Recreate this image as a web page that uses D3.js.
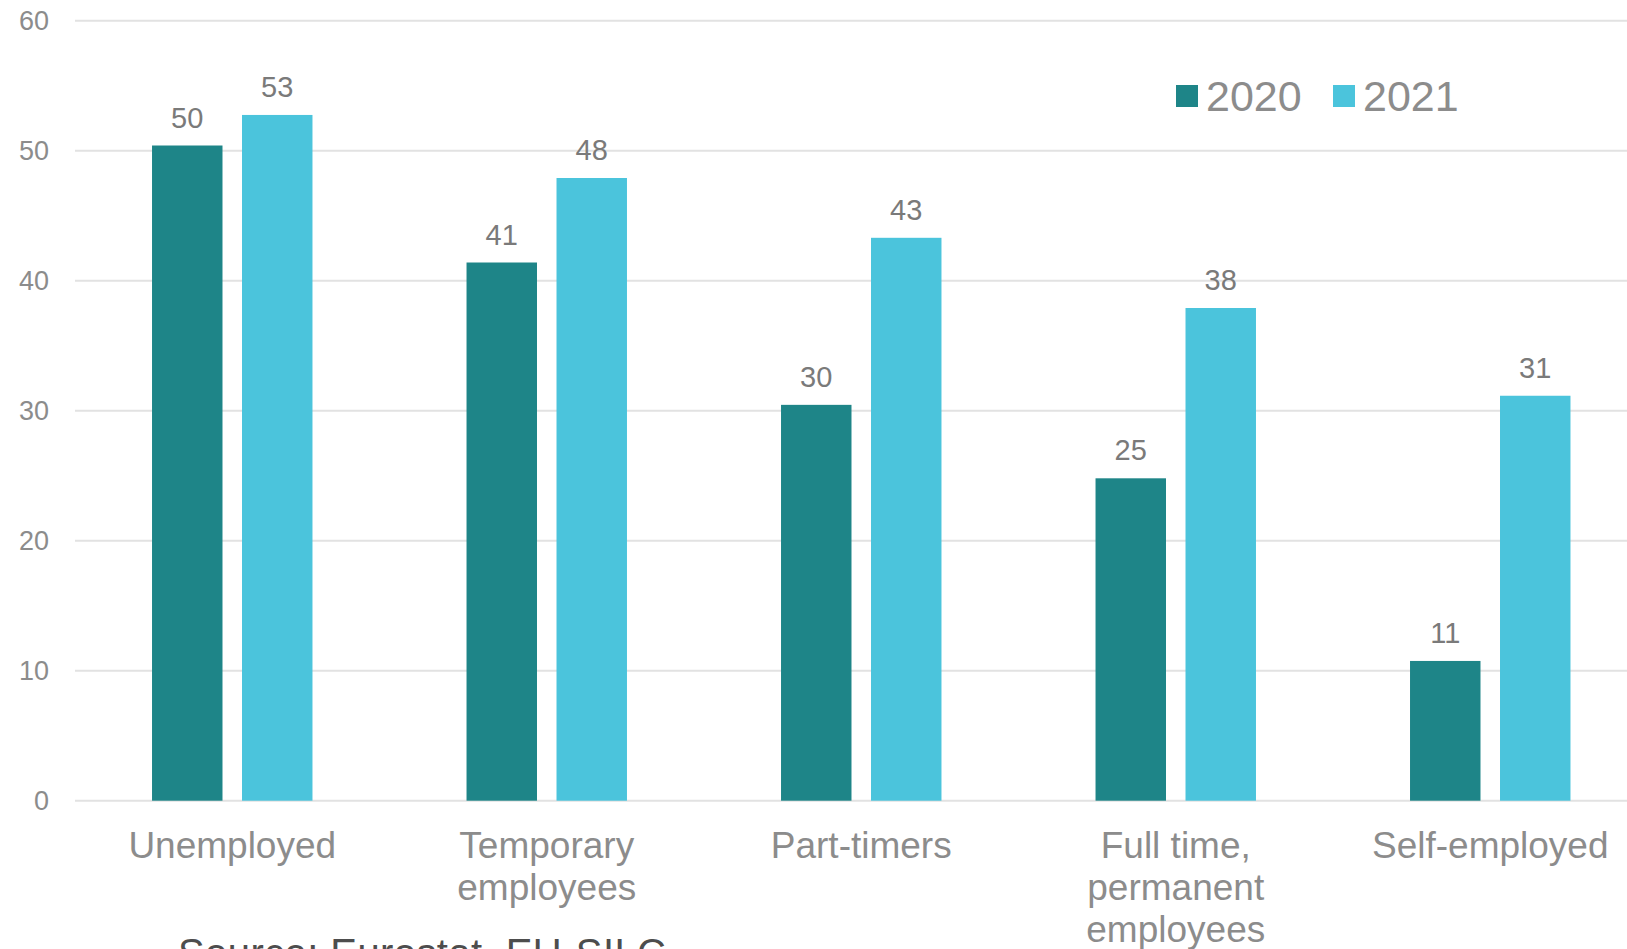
<!DOCTYPE html>
<html>
<head>
<meta charset="utf-8">
<script src="https://cdn.jsdelivr.net/npm/d3@7"></script>
<style>
  html, body { margin: 0; padding: 0; background: #fff; overflow: hidden; }
  text { font-family: "Liberation Sans", Arial, sans-serif; }
</style>
</head>
<body>
<svg id="chart"></svg>
<script>
let width = 1627;
let height = 949;

// values
let categories = ["Unemployed", "Temporary employees", "Part-timers", "Full time, permanent employees", "Self-employed"];
let years = ["2020", "2021"];
let values2020 = [50.4, 41.4, 30.45, 24.8, 10.75];
let values2021 = [52.75, 47.9, 43.3, 37.9, 31.15];
let yTicks = [0, 10, 20, 30, 40, 50, 60];
let colors = {"2020": "#1e8588", "2021": "#4bc4dc"};
let sourceText = "Source: Eurostat, EU-SILC";

let series = {"2020": values2020, "2021": values2021};

let svg = d3.select("#chart")
    .attr("width", width)
    .attr("height", height);

let left = 75;
let step = 314.5;

let y = d3.scaleLinear().domain([0, 60]).range([800.7, 20.7]);
let x0 = d3.scaleBand().domain(categories).range([left, left + step * categories.length]).padding(0);
let x1 = d3.scaleBand().domain(years).range([0, x0.bandwidth()]).paddingInner(0.217).paddingOuter(0.856);

// gridlines
svg.append("g")
    .selectAll("line")
    .data(yTicks)
    .enter().append("line")
    .attr("x1", left)
    .attr("x2", width)
    .attr("y1", d => y(d))
    .attr("y2", d => y(d))
    .attr("stroke", "#e2e2e2")
    .attr("stroke-width", 2);

// y tick labels
svg.append("g")
    .selectAll("text")
    .data(yTicks)
    .enter().append("text")
    .attr("x", 49)
    .attr("y", d => y(d))
    .attr("dy", "0.35em")
    .attr("text-anchor", "end")
    .attr("font-size", 27)
    .attr("fill", "#8c8c8c")
    .text(d => d);

// bars
let groups = svg.append("g")
    .selectAll("g")
    .data(categories)
    .enter().append("g")
    .attr("transform", d => "translate(" + x0(d) + ",0)");

groups.selectAll("rect")
    .data((d, i) => years.map(yr => ({year: yr, value: series[yr][i]})))
    .enter().append("rect")
    .attr("x", d => x1(d.year))
    .attr("width", x1.bandwidth())
    .attr("y", d => y(d.value))
    .attr("height", d => y(0) - y(d.value))
    .attr("fill", d => colors[d.year]);

groups.selectAll("text.val")
    .data((d, i) => years.map(yr => ({year: yr, value: series[yr][i]})))
    .enter().append("text")
    .attr("class", "val")
    .attr("x", d => x1(d.year) + x1.bandwidth() / 2)
    .attr("y", d => y(d.value) - 18)
    .attr("text-anchor", "middle")
    .attr("font-size", 29)
    .attr("fill", "#7a7a7a")
    .text(d => Math.round(d.value));

// category labels, wrapped to the band width
let catLabels = svg.append("g")
    .selectAll("text")
    .data(categories)
    .enter().append("text")
    .attr("x", d => x0(d) + x0.bandwidth() / 2)
    .attr("y", 857.5)
    .attr("text-anchor", "middle")
    .attr("font-size", 37)
    .attr("fill", "#8c8c8c");

catLabels.each(function (d) {
    let el = d3.select(this);
    let words = d.split(" ");
    let line = [];
    let tspan = el.append("tspan").attr("x", el.attr("x")).attr("dy", 0);
    words.forEach(function (w) {
        line.push(w);
        tspan.text(line.join(" "));
        if (tspan.node().getComputedTextLength() > 300 && line.length > 1) {
            line.pop();
            tspan.text(line.join(" "));
            line = [w];
            tspan = el.append("tspan").attr("x", el.attr("x")).attr("dy", 42).text(w);
        }
    });
});

// legend
let legend = svg.append("g")
    .selectAll("g")
    .data(years)
    .enter().append("g")
    .attr("transform", (d, i) => "translate(" + (1176 + i * 157) + ",85)");

legend.append("rect")
    .attr("width", 22)
    .attr("height", 22)
    .attr("fill", d => colors[d]);

legend.append("text")
    .attr("x", 30)
    .attr("y", 26)
    .attr("font-size", 43)
    .attr("fill", "#8c8c8c")
    .text(d => d);

// source note, cut by the bottom edge like in the original
svg.append("text")
    .attr("x", 178)
    .attr("y", 967)
    .attr("font-family", "'Open Sans', sans-serif")
    .attr("font-size", 40)
    .attr("textLength", 488)
    .attr("lengthAdjust", "spacing")
    .attr("fill", "#4d4d4d")
    .text(sourceText);
</script>
</body>
</html>
